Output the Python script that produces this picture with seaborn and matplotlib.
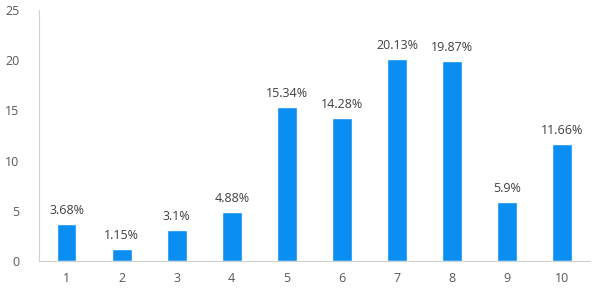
import matplotlib
matplotlib.use("Agg")
import matplotlib.pyplot as plt
import seaborn as sns
import pandas as pd
import numpy as np
from matplotlib.ticker import FixedLocator

categories = ["1", "2", "3", "4", "5", "6", "7", "8", "9", "10"]
values = [3.68, 1.15, 3.1, 4.88, 15.34, 14.28, 20.13, 19.87, 5.9, 11.66]
labels = ["3.68%", "1.15%", "3.1%", "4.88%", "15.34%", "14.28%", "20.13%", "19.87%", "5.9%", "11.66%"]
yticks = [0, 5, 10, 15, 20, 25]

sns.set_theme(style="white")
plt.rcParams['font.family'] = ['Open Sans', 'DejaVu Sans']

df = pd.DataFrame({"cat": categories, "val": values})
fig = plt.figure(figsize=(6, 3), dpi=100)
ax = fig.add_axes([0.065, 0.13, 0.918, 0.837])
sns.barplot(data=df, x="cat", y="val", color="#0b8ef2", saturation=1, width=0.36, ax=ax)

for i, (v, lab) in enumerate(zip(values, labels)):
    ax.text(i, v + 0.7, lab, ha="center", va="bottom", fontsize=9, color="#404040")

ax.set_ylim(0, 25)
ax.set_xlim(-0.5, 9.5)
ax.set_yticks(yticks)
ax.set_xlabel("")
ax.set_ylabel("")
ax.tick_params(axis="y", length=0, labelsize=9, labelcolor="#595959", pad=14)
ax.tick_params(axis="x", which="major", length=0, labelsize=9, labelcolor="#595959", pad=8)
ax.xaxis.set_minor_locator(FixedLocator(np.arange(-0.5, 10, 1)))
ax.tick_params(axis="x", which="minor", length=6, width=0.8, color="#d0d0d0", direction="out")
for s in ["top", "right"]:
    ax.spines[s].set_visible(False)
for s in ["left", "bottom"]:
    ax.spines[s].set_color("#d0d0d0")
    ax.spines[s].set_linewidth(0.8)

fig.savefig("out.png", dpi=100)
